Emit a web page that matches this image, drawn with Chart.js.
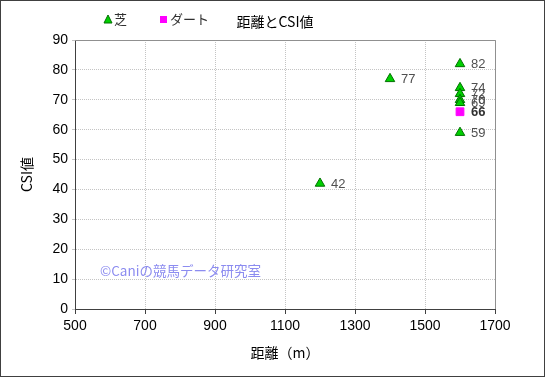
<!DOCTYPE html>
<html>
<head>
<meta charset="utf-8">
<script src="https://cdn.jsdelivr.net/npm/chart.js@4/dist/chart.umd.min.js"></script>
<style>
  body { margin: 0; background: #fff; }
  #wrap { width: 545px; height: 377px; position: relative; }
</style>
</head>
<body>
<div id="wrap"><canvas id="csiChart" width="545" height="377"></canvas></div>
<script>
// 距離とCSI値
var turfDist = [1200, 1400, 1600, 1600, 1600, 1600, 1600, 1600];
var turfCsi  = [42, 77, 82, 74, 72, 70, 69, 59];
var dirtDist = [1600];
var dirtCsi  = [66];
var xTicks = [500, 700, 900, 1100, 1300, 1500, 1700];
var yTicks = [0, 10, 20, 30, 40, 50, 60, 70, 80, 90];

var FONT = '"Liberation Sans", "Noto Sans CJK JP", sans-serif';
var JFONT = '"Noto Sans CJK JP", sans-serif';

function toPoints(xs, ys){
	var out = [];
	for (var i in xs) out.push({x: xs[i], y: ys[i]});
	return out;
}

var decor = {
	id: 'decor',
	afterDraw: function(chart){
		var ctx = chart.ctx, a = chart.chartArea;
		ctx.save();
		// outer frame
		ctx.strokeStyle = '#404040';
		ctx.lineWidth = 1;
		ctx.strokeRect(0.5, 0.5, 544, 376);
		// top/right border of plot
		ctx.strokeStyle = '#909090';
		ctx.beginPath();
		ctx.moveTo(a.left, a.top + 0.5); ctx.lineTo(a.right + 0.5, a.top + 0.5);
		ctx.lineTo(a.right + 0.5, a.bottom);
		ctx.stroke();
		// point labels
		ctx.textBaseline = 'middle';
		ctx.textAlign = 'left';
		chart.data.datasets.forEach(function(ds, di){
			var meta = chart.getDatasetMeta(di);
			meta.data.forEach(function(pt, i){
				ctx.font = (di === 1 ? 'bold ' : '') + '13px ' + FONT;
				ctx.fillStyle = di === 1 ? '#303030' : '#505050';
				ctx.fillText(String(ds.data[i].y), pt.x + 11, pt.y + 1);
			});
		});
		// title
		ctx.fillStyle = '#000';
		ctx.font = '14px ' + JFONT;
		ctx.textAlign = 'center';
		ctx.fillText('距離とCSI値', 275, 22);
		// legend
		ctx.font = '13px ' + JFONT;
		ctx.textAlign = 'left';
		var lx = [104, 160];
		chart.data.datasets.forEach(function(ds, di){
			var x = lx[di], y = 19;
			ctx.fillStyle = ds.backgroundColor;
			ctx.strokeStyle = ds.borderColor;
			ctx.beginPath();
			if (ds.pointStyle === 'triangle') {
				ctx.moveTo(x + 4, y - 4); ctx.lineTo(x + 8, y + 4); ctx.lineTo(x, y + 4); ctx.closePath();
				ctx.fill(); ctx.stroke();
			} else {
				ctx.fillRect(x, y - 3, 7, 7);
			}
			ctx.fillStyle = '#303030';
			ctx.fillText(ds.label, x + 10, y);
		});
		// watermark
		ctx.fillStyle = '#8c8cf0';
		ctx.font = '13.5px ' + JFONT;
		ctx.fillText('©Caniの競馬データ研究室', 100, 271);
		ctx.restore();
	}
};

var ctx = document.getElementById('csiChart');
var scatter = new Chart(ctx, {
	type: 'scatter',
	data: {
		datasets: [
			{
				label: '芝',
				data: toPoints(turfDist, turfCsi),
				pointStyle: 'triangle',
				pointRadius: 5.5,
				backgroundColor: '#00d000',
				borderColor: '#007000',
				borderWidth: 1
			},
			{
				label: 'ダート',
				data: toPoints(dirtDist, dirtCsi),
				pointStyle: 'rect',
				pointRadius: 5.5,
				backgroundColor: '#ff00ff',
				borderColor: '#ff00ff',
				borderWidth: 1
			}
		]
	},
	options: {
		responsive: false,
		animation: false,
		layout: { padding: { top: 40, right: 50, left: 0, bottom: 0 } },
		plugins: { legend: { display: false }, tooltip: { enabled: false } },
		scales: {
			x: {
				type: 'linear', min: 500, max: 1700,
				afterBuildTicks: function(s){ s.ticks = xTicks.map(function(v){ return {value: v}; }); },
				afterFit: function(s){ s.height = 68; },
				ticks: { color: '#000', font: { family: FONT, size: 14 }, padding: 4, maxRotation: 0,
					callback: function(v){ return String(v); } },
				grid: { color: '#c4c4c4', tickColor: '#404040', tickLength: 5, tickBorderDash: [] },
				border: { color: '#404040', dash: [1, 1] },
				title: { display: true, text: '距離（m）', color: '#000', font: { family: JFONT, size: 14 }, padding: { bottom: 16 } }
			},
			y: {
				type: 'linear', min: 0, max: 90,
				afterBuildTicks: function(s){ s.ticks = yTicks.map(function(v){ return {value: v}; }); },
				afterFit: function(s){ s.width = 75; },
				ticks: { color: '#000', font: { family: FONT, size: 14 }, padding: 4 },
				grid: { color: '#c4c4c4', tickColor: '#c4c4c4', tickLength: 3 },
				border: { color: '#404040', dash: [1, 1] },
				title: { display: true, text: 'CSI値', color: '#000', font: { family: JFONT, size: 14 }, padding: { top: 18 } }
			}
		}
	},
	plugins: [decor]
});
</script>
</body>
</html>
